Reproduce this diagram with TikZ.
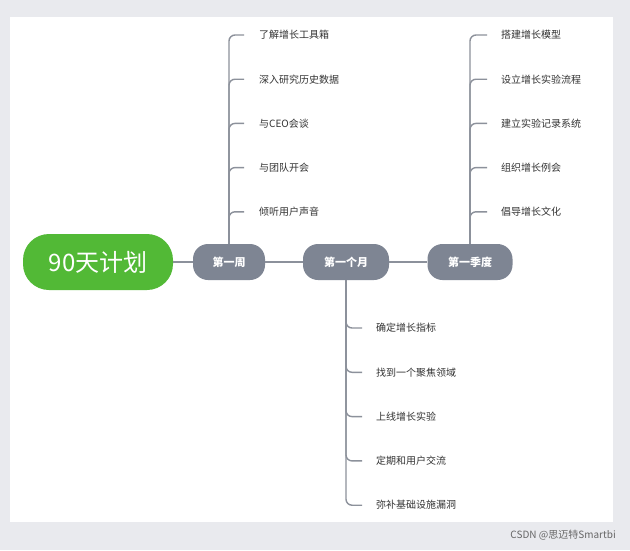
\documentclass[tikz,border=0pt]{standalone}
\usepackage{fontspec}
\setmainfont{Noto Sans CJK SC}
\begin{document}
\begin{tikzpicture}[x=1pt,y=-1pt,
  lnk/.style={draw=lnc,line width=1.6pt},
  br/.style={draw=lnc,line width=1.4pt,rounded corners=6pt},
  item/.style={anchor=west,inner sep=0pt,font=\fontsize{10}{12}\selectfont,text=txc},
  sub/.style={fill=subc,rounded corners=15pt,minimum height=36pt,text=white,font=\bfseries\fontsize{11}{13}\selectfont,inner sep=4pt}]
\definecolor{lnc}{HTML}{8C919B}
\definecolor{subc}{HTML}{7E8593}
\definecolor{txc}{HTML}{333333}
\definecolor{grn}{HTML}{52B936}
\definecolor{bgc}{HTML}{E9EAEE}
\useasboundingbox (0,0) rectangle (630,550);
\fill[bgc] (0,0) rectangle (630,550);
\fill[white] (10,17) rectangle (613,522);
\node[fill=grn,rounded corners=26pt,minimum width=150pt,minimum height=56pt,text=white,font=\fontsize{24}{28}\selectfont] (root) at (98,262) {90天计划};
\node[sub,minimum width=72pt] (w) at (229,262) {第一周};
\node[sub,minimum width=86pt] (m) at (346,262) {第一个月};
\node[sub,minimum width=85pt] (q) at (470,262) {第一季度};
\draw[lnk] (root) -- (w); \draw[lnk] (w) -- (m); \draw[lnk] (m) -- (q);
\foreach \t [count=\i] in {了解增长工具箱,深入研究历史数据,与CEO会谈,与团队开会,倾听用户声音}{
  \pgfmathsetmacro\yy{35+44.2*(\i-1)}
  \node[item] (w\i) at (259,\yy) {\t};
  \coordinate (we\i) at (244,\yy);
  \draw[br] (w.north) |- (we\i);
}
\foreach \t [count=\i] in {搭建增长模型,设立增长实验流程,建立实验记录系统,组织增长例会,倡导增长文化}{
  \pgfmathsetmacro\yy{35+44.2*(\i-1)}
  \node[item] (q\i) at (501,\yy) {\t};
  \coordinate (qe\i) at (487,\yy);
  \draw[br] (q.north) |- (qe\i);
}
\foreach \t [count=\i] in {确定增长指标,找到一个聚焦领域,上线增长实验,定期和用户交流,弥补基础设施漏洞}{
  \pgfmathsetmacro\yy{328+44.3*(\i-1)}
  \node[item] (m\i) at (376,\yy) {\t};
  \coordinate (me\i) at (362,\yy);
  \draw[br] (m.south) |- (me\i);
}
\node[anchor=east,text=black!60,font=\fontsize{10}{12}\selectfont,inner sep=0pt] (wm) at (616,535) {CSDN @思迈特Smartbi};
\end{tikzpicture}
\end{document}
